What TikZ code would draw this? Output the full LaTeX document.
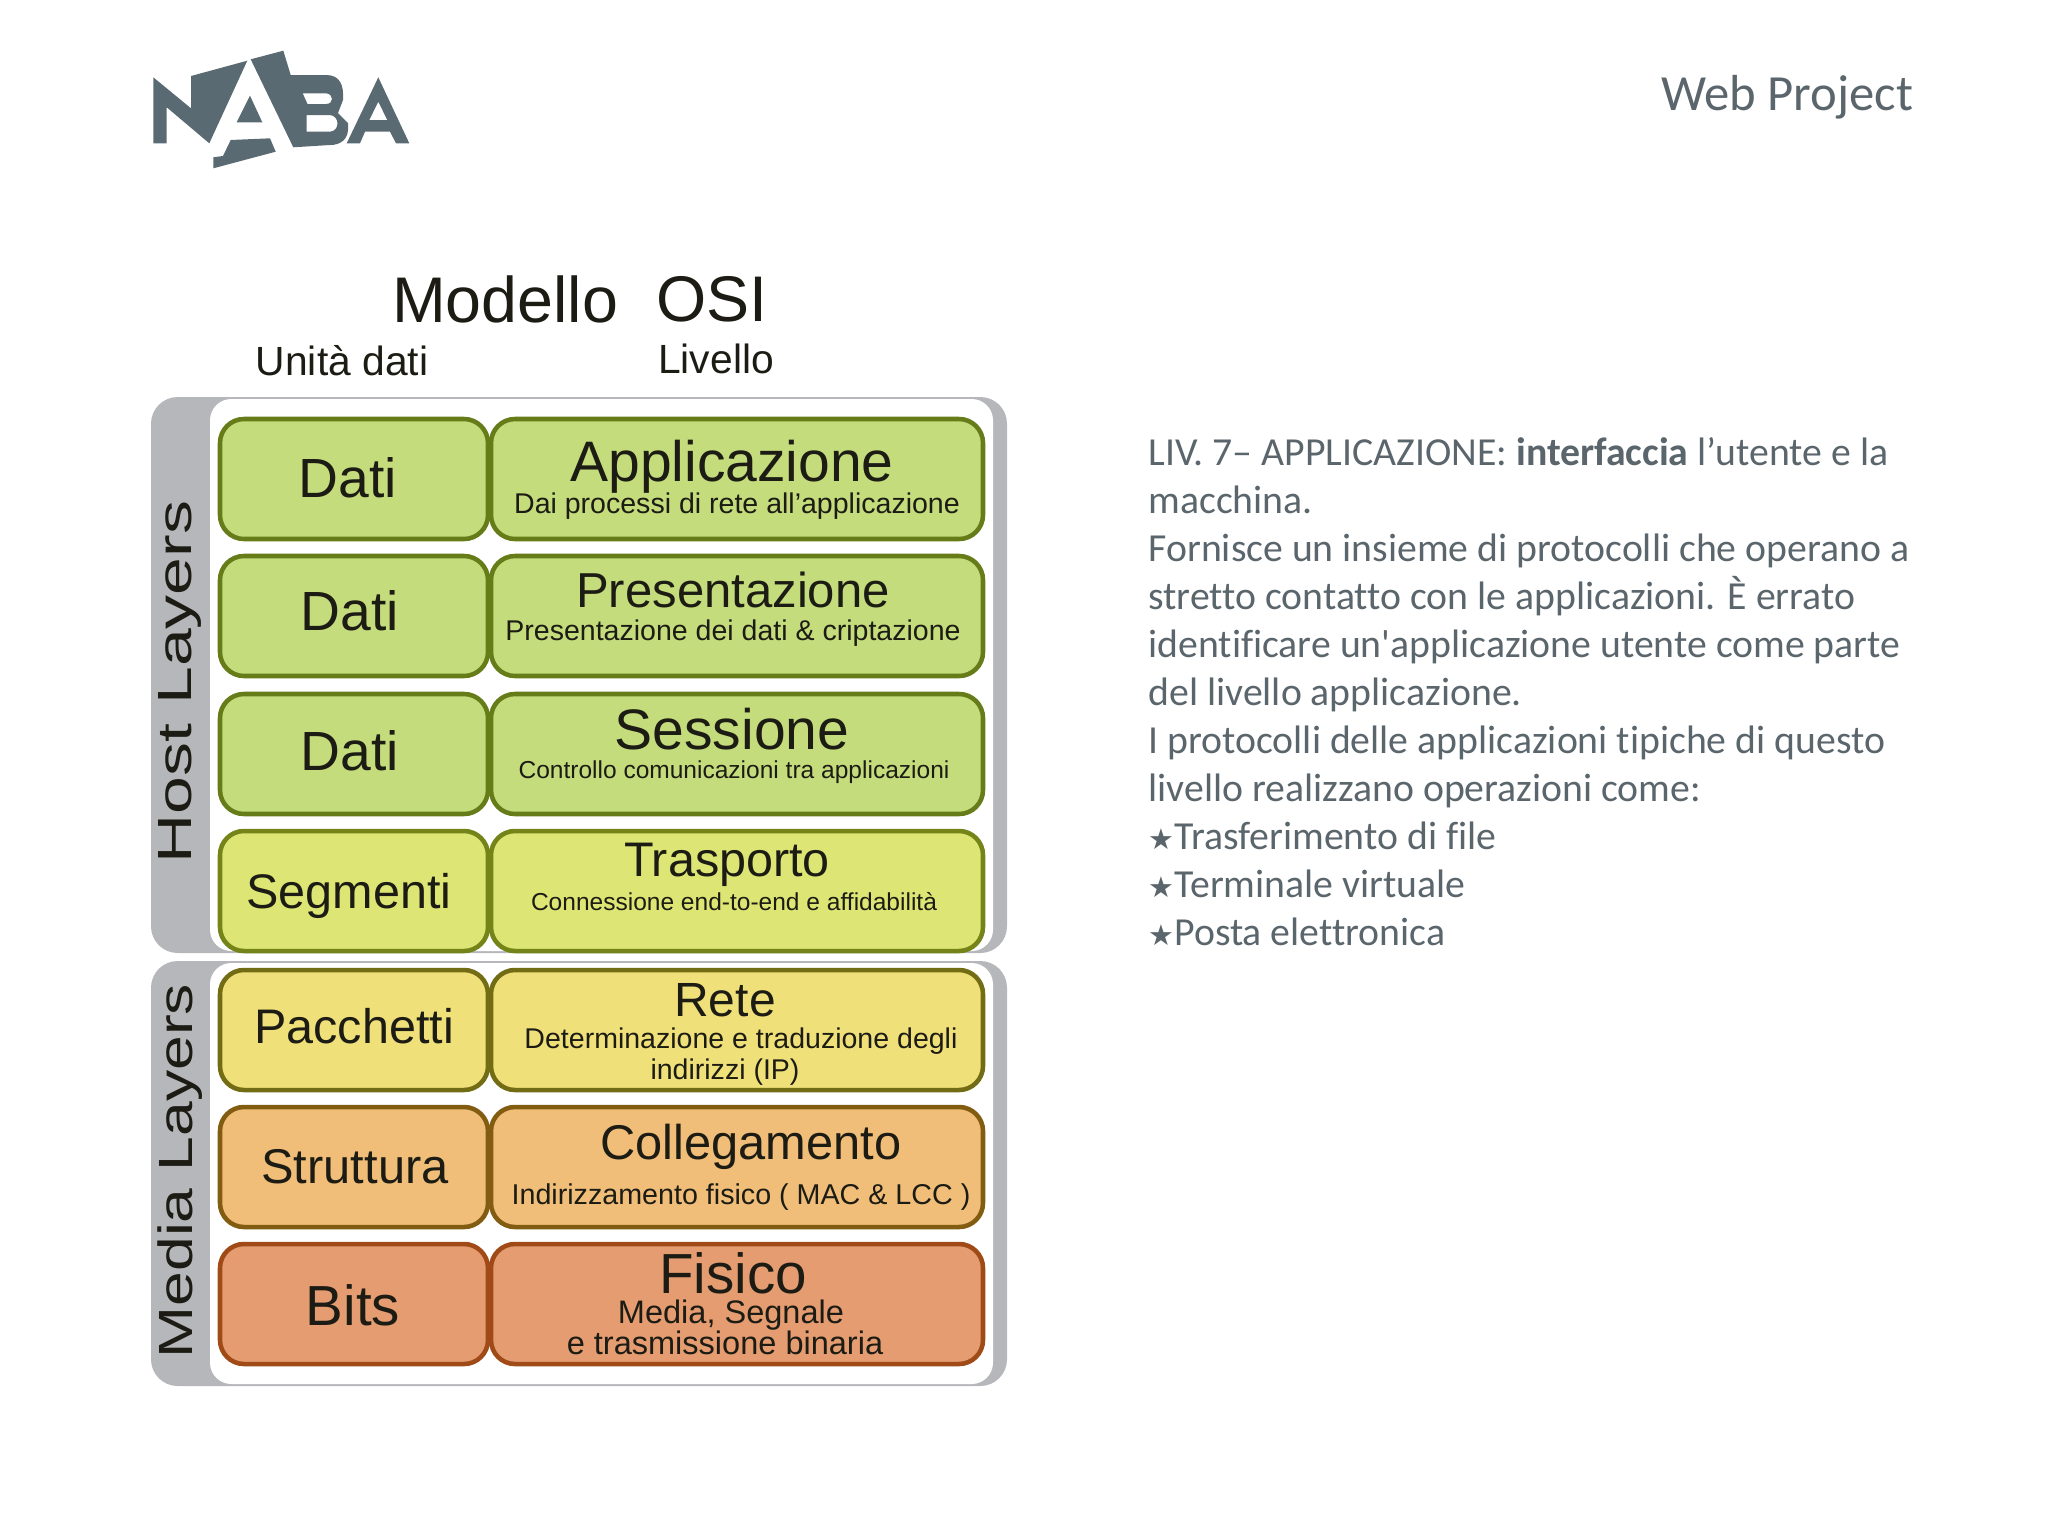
\documentclass[tikz,border=0pt]{standalone}
\usepackage{fontspec}
\setmainfont{Liberation Sans}
\newfontfamily\slidefont[Ligatures=NoCommon]{Carlito}
\newfontfamily\symfont{DejaVu Sans}
\definecolor{logogrey}{HTML}{5A6A72}
\definecolor{slidegrey}{HTML}{5A656C}
\definecolor{panelgrey}{HTML}{B6B7BB}
\definecolor{inkdark}{HTML}{1C1C14}
\definecolor{greenfill}{HTML}{C4DC7C}
\definecolor{greenline}{HTML}{667C18}
\definecolor{limefill}{HTML}{DDE674}
\definecolor{limeline}{HTML}{748418}
\definecolor{yellowfill}{HTML}{F0E07A}
\definecolor{yellowline}{HTML}{726C14}
\definecolor{orangefill}{HTML}{F0BE78}
\definecolor{orangeline}{HTML}{825C10}
\definecolor{redfill}{HTML}{E49C70}
\definecolor{redline}{HTML}{A04A18}
\tikzset{
    cellleft/.style 2 args={draw=#2,fill=#1,line width=1.7pt,rounded corners=9pt,
        minimum width=100.5pt,minimum height=45pt,inner sep=0pt},
    cellright/.style 2 args={draw=#2,fill=#1,line width=1.7pt,rounded corners=9pt,
        minimum width=184.5pt,minimum height=45pt,inner sep=0pt},
    txt/.style={text=inkdark,inner sep=0pt,font=\fontsize{#1}{#1}\selectfont},
    panel/.style={fill=panelgrey,rounded corners=10pt},
    panelin/.style={fill=white,rounded corners=8pt},
}
\begin{document}
\begin{tikzpicture}[x=0.375pt,y=-0.375pt]
    \useasboundingbox (0,0) rectangle (2048,1536);
    % logo
    \fill[logogrey] (153.3,77.3) -- (191,108.3) -- (191,76) -- (247.3,60.7) -- (209.3,143.3)
        -- (166.7,107.3) -- (166.7,143.3) -- (153.3,143.3) -- cycle;
    \fill[logogrey,even odd rule] (250.7,59.3) -- (283.3,50.7) -- (290.7,75) -- (326,75)
        .. controls (340,75) and (344,85) .. (343,100) -- (338,113) -- (348,123)
        .. controls (350,140) and (340,145) .. (330,145) -- (293.3,147.3) -- cycle
        (302.7,93.3) -- (326,93.3) .. controls (334,94) and (334,104) .. (326,104) -- (307.5,104) -- cycle
        (306.7,115) -- (330,115) .. controls (340,116) and (340,131) .. (330,131.7) -- (306.7,131.7) -- cycle;
    \fill[logogrey] (250,95.7) -- (262.3,122.3) -- (236.7,122.3) -- cycle;
    \fill[logogrey] (230.7,140) -- (270,138.3) -- (275.7,151.7) -- (213.3,168.3) -- (213.3,157.3) -- (223,156) -- cycle;
    \fill[logogrey,even odd rule] (378.3,77.3) -- (409.3,143.3) -- (396,143.3) -- (390,131.7) -- (365,131.7)
        -- (360,143.3) -- (346.7,143.3) -- cycle
        (378.3,101.7) -- (387.3,120) -- (369.3,120) -- cycle;
    \node[text=slidegrey,inner sep=0pt,font=\slidefont\fontsize{19}{19}\selectfont] (heading) at (1787,97) {Web Project};
    % titles
    \node[txt=24.2] (modello) at (505,299) {Modello};
    \node[txt=24.2] (osi) at (712,299) {OSI};
    \node[txt=15.3] (unita) at (342,361) {Unità dati};
    \node[txt=15.3] (livello) at (716,359) {Livello};
    % panels
    \path[panel] (151,397) rectangle (1007,953);
    \path[panelin] (210,399) rectangle (993,951);
    \path[panel] (151,961) rectangle (1007,1386);
    \path[panelin] (210,963) rectangle (993,1384);
    \node[txt=18,rotate=90] (host) at (180,682) {\scalebox{1.415}[1]{Host Layers}};
    \node[txt=18,rotate=90] (media) at (180,1171) {\scalebox{1.30}[1]{Media Layers}};
    % left column
    \node[cellleft={greenfill}{greenline}] (unit1) at (354,479) {};
    \node[cellleft={greenfill}{greenline}] (unit2) at (354,616) {};
    \node[cellleft={greenfill}{greenline}] (unit3) at (354,754) {};
    \node[cellleft={limefill}{limeline}] (unit4) at (354,891) {};
    \node[cellleft={yellowfill}{yellowline}] (unit5) at (354,1030) {};
    \node[cellleft={orangefill}{orangeline}] (unit6) at (354,1167) {};
    \node[cellleft={redfill}{redline}] (unit7) at (354,1304) {};
    % right column
    \node[cellright={greenfill}{greenline}] (layer7) at (737,479) {};
    \node[cellright={greenfill}{greenline}] (layer6) at (737,616) {};
    \node[cellright={greenfill}{greenline}] (layer5) at (737,754) {};
    \node[cellright={limefill}{limeline}] (layer4) at (737,891) {};
    \node[cellright={yellowfill}{yellowline}] (layer3) at (737,1030) {};
    \node[cellright={orangefill}{orangeline}] (layer2) at (737,1167) {};
    \node[cellright={redfill}{redline}] (layer1) at (737,1304) {};
    % unit labels
    \node[txt=20.7] (dati1) at (348,478) {Dati};
    \node[txt=20.7] (dati2) at (350,611) {Dati};
    \node[txt=20.7] (dati3) at (350,751) {Dati};
    \node[txt=18.2] (segmenti) at (349,896) {Segmenti};
    \node[txt=18.2] (pacchetti) at (354,1026) {Pacchetti};
    \node[txt=18.3] (struttura) at (355,1167) {Struttura};
    \node[txt=21.2] (bits) at (353,1305) {Bits};
    % layer labels
    \node[txt=21.4] (appl) at (732,467) {Applicazione};
    \node[txt=10.7] (applsub) at (737,506) {Dai processi di rete all'applicazione};
    \node[txt=18.4] (pres) at (733,590) {Presentazione};
    \node[txt=10.7] (pressub) at (733,633) {Presentazione dei dati \& criptazione};
    \node[txt=21.4] (sess) at (732,729) {Sessione};
    \node[txt=9.2] (sesssub) at (734,772) {Controllo comunicazioni tra applicazioni};
    \node[txt=18.2] (tras) at (727,865) {Trasporto};
    \node[txt=9.2] (trassub) at (734,902) {Connessione end-to-end e affidabilità};
    \node[txt=18] (rete) at (725,1000) {Rete};
    \node[txt=10.7] (retesub) at (741,1041) {Determinazione e traduzione degli};
    \node[txt=10.7] (retesubb) at (725,1072) {indirizzi (IP)};
    \node[txt=18.3] (coll) at (751,1147) {Collegamento};
    \node[txt=10.75] (collsub) at (741,1197) {Indirizzamento fisico ( MAC \& LCC )};
    \node[txt=21.2] (fisico) at (733,1273) {Fisico};
    \node[txt=12.2] (fisicosub) at (731,1315) {Media, Segnale};
    \node[txt=12.2] (fisicosubb) at (725,1343) {e trasmissione binaria};
    % slide text
    \node[anchor=north west,inner sep=0pt,text=slidegrey,align=left,
        font=\slidefont\fontsize{14.9}{18}\selectfont] (body) at (1148,437) {%
        LIV. 7– APPLICAZIONE: \textbf{interfaccia} l’utente e la\\
        macchina.\\
        Fornisce un insieme di protocolli che operano a\\
        stretto contatto con le applicazioni. È errato\\
        identificare un'applicazione utente come parte\\
        del livello applicazione.\\
        I protocolli delle applicazioni tipiche di questo\\
        livello realizzano operazioni come:\\
        {\symfont\fontsize{10.8}{18}\selectfont ★}Trasferimento di file\\
        {\symfont\fontsize{10.8}{18}\selectfont ★}Terminale virtuale\\
        {\symfont\fontsize{10.8}{18}\selectfont ★}Posta elettronica};
\end{tikzpicture}
\end{document}
